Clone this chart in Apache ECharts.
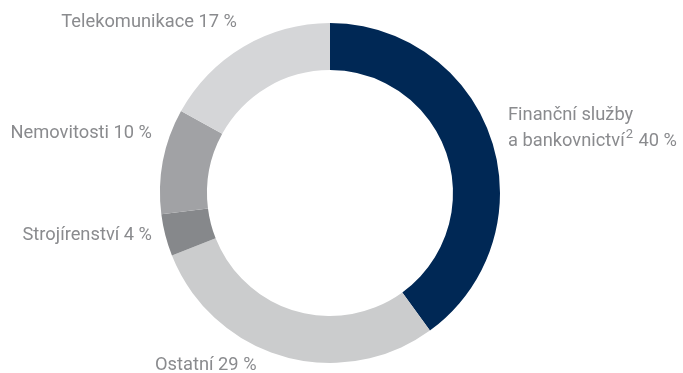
<!DOCTYPE html>
<html><head><meta charset="utf-8">
<script src="https://cdn.jsdelivr.net/npm/echarts@6/dist/echarts.min.js"></script>
<style>html,body{margin:0;padding:0;background:#fff}#c{width:683px;height:373px}</style>
</head><body><div id="c"></div>
<script>
const categories = ['Finanční služby\na bankovnictví{s|2}', 'Ostatní', 'Strojírenství', 'Nemovitosti', 'Telekomunikace'];
const values = [40, 29, 4, 10, 17];
const colors = ['#002855', '#cbcccd', '#86888b', '#a1a2a5', '#d5d6d8'];
// label anchor placement (layout only)
const labelPlace = [
  {x: 508, y: 128, align: 'left'},
  {x: 155, y: 365, align: 'left'},
  {x: 152, y: 235, align: 'right'},
  {x: 152, y: 133, align: 'right'},
  {x: 237, y: 22, align: 'right'}
];
const chart = echarts.init(document.getElementById('c'));
chart.setOption({
  animation: false,
  series: [{
    type: 'pie',
    center: [330, 193],
    radius: [123, 170],
    startAngle: 90,
    clockwise: true,
    silent: true,
    data: categories.map((n, i) => ({name: n, value: values[i], itemStyle: {color: colors[i]}})),
    label: {
      show: true,
      overflow: 'none',
      formatter: p => p.name + ' ' + p.value + ' %',
      color: '#8a8b8e',
      fontFamily: 'Roboto',
      fontSize: 18.3,
      lineHeight: 26,
      rich: {
        s: {fontFamily: 'Roboto', fontSize: 13, color: '#8a8b8e', verticalAlign: 'top', lineHeight: 26, padding: [0, 1, 6, 1]}
      }
    },
    labelLine: {show: false},
    labelLayout: p => {
      const l = labelPlace[p.dataIndex];
      return {x: l.x, y: l.y, align: l.align, verticalAlign: 'middle'};
    }
  }]
});
</script></body></html>
